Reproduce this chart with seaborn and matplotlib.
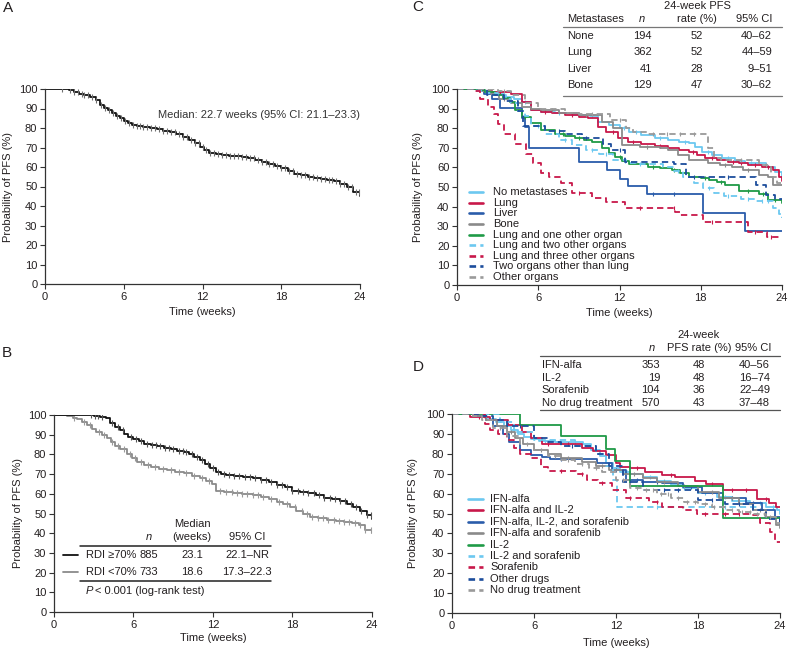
import numpy as np
import matplotlib
matplotlib.use("Agg")
import matplotlib.pyplot as plt
from matplotlib.lines import Line2D
import seaborn as sns

# ---- panel A: all patients ----
A_t = [0, 1.4, 1.8, 2.2, 2.6, 3.0, 3.4, 3.9, 4.2, 4.5, 4.8, 5.1, 5.4, 5.7, 6.0, 6.3, 6.6,
       7.0, 7.5, 8.0, 8.5, 9.0, 9.5, 10.0, 10.5, 11.0, 11.4, 11.8, 12.1, 12.5, 13.0, 13.5, 14.0,
       14.5, 15.0, 15.5, 16.0, 16.5, 17.0, 17.5, 18.0, 18.5, 19.0, 19.5, 20.0, 20.5, 21.0, 21.5,
       22.0, 22.5, 23.0, 23.5, 24.0]
A_v = [100, 99.8, 99.4, 98.6, 97.6, 96.8, 95.8, 94.4, 91.8, 90.5, 89.2, 87.6, 86.2, 85.0, 83.8,
       82.5, 81.6, 80.9, 80.4, 79.8, 79.3, 78.5, 77.8, 76.8, 75.5, 73.8, 72.3, 70.4, 68.5, 67.3,
       66.5, 66.1, 65.8, 65.5, 65.2, 64.5, 63.8, 62.8, 61.7, 60.4, 59.3, 57.8, 56.6, 55.7, 55.0,
       54.2, 53.6, 53.2, 52.8, 51.4, 49.9, 47.3, 45.0]
A_c = [1.3, 1.9, 2.2, 2.5, 2.8, 3.0, 3.3, 3.6, 3.9, 4.3, 4.6, 4.9, 5.2, 5.5, 5.8, 6.1, 6.4, 6.7,
       7.0, 7.2, 7.5, 7.8, 8.1, 8.4, 8.7, 9.0, 9.3, 9.6, 9.9, 10.2, 10.5, 10.8, 11.1, 11.4, 11.7,
       12.0, 12.3, 12.6, 12.9, 13.2, 13.5, 13.8, 14.1, 14.4, 14.7, 15.0, 15.3, 15.6, 15.9, 16.2,
       16.5, 16.8, 17.1, 17.4, 17.7, 18.0, 18.3, 18.6, 18.9, 19.2, 19.5, 19.8, 20.1, 20.4, 20.7,
       21.0, 21.3, 21.6, 21.9, 22.2, 22.5, 22.8, 23.1, 23.4, 23.7, 23.9]
A_note = "Median: 22.7 weeks (95% CI: 21.1\u201323.3)"

# ---- panel B: RDI groups ----
B1_t = [0, 3.0, 3.5, 3.9, 4.2, 4.6, 5.0, 5.3, 5.6, 6.0, 6.4, 6.8, 7.3, 7.8, 8.3, 8.8, 9.3, 9.8,
        10.2, 10.6, 11.0, 11.4, 11.8, 12.2, 12.6, 13.0, 13.6, 14.3, 15.0, 15.6, 16.2, 16.8, 17.4,
        18.0, 18.6, 19.2, 19.8, 20.4, 21.0, 21.6, 22.1, 22.6, 23.1, 23.6, 24.0]
B1_v = [100, 99.5, 99.0, 98.3, 95.8, 94.0, 92.4, 90.5, 89.0, 88.0, 87.0, 85.1, 84.6, 84.2, 83.4,
        82.6, 81.8, 81.2, 80.0, 78.5, 77.0, 75.0, 73.0, 71.2, 70.2, 69.5, 68.9, 68.5, 67.8, 67.0,
        66.0, 64.5, 63.2, 61.6, 60.8, 60.2, 59.2, 57.9, 57.2, 56.3, 55.0, 53.2, 51.5, 49.3, 47.0]
B1_c = [2.8, 3.1, 3.3, 3.6, 4.4, 4.8, 5.2, 5.8, 6.2, 6.6, 7.0, 7.4, 7.7, 8.0, 8.4, 8.7, 9.0, 9.4,
        9.7, 10.0, 10.4, 10.8, 11.2, 11.6, 12.0, 12.4, 12.8, 13.2, 13.6, 14.0, 14.4, 14.8, 15.2,
        15.6, 16.0, 16.4, 16.8, 17.2, 17.6, 18.0, 18.4, 18.8, 19.2, 19.6, 20.0, 20.4, 20.8, 21.2,
        21.6, 22.0, 22.4, 22.8, 23.2, 23.6, 23.9]
B2_t = [0, 1.0, 1.4, 1.7, 2.1, 2.5, 2.9, 3.2, 3.6, 4.0, 4.3, 4.6, 5.0, 5.5, 5.9, 6.3, 6.8, 7.3,
        7.9, 8.5, 9.1, 9.8, 10.4, 11.0, 11.5, 11.9, 12.2, 12.8, 13.5, 14.2, 15.0, 15.6, 16.2, 16.8,
        17.3, 17.8, 18.3, 18.8, 19.3, 19.9, 20.6, 21.3, 21.9, 22.5, 23.0, 23.5, 24.0]
B2_v = [100, 99.3, 98.6, 97.8, 96.5, 94.9, 92.8, 91.2, 90.0, 88.1, 86.5, 84.5, 82.8, 80.2, 78.3,
        76.3, 74.8, 73.6, 72.6, 72.0, 71.2, 70.4, 69.2, 67.9, 66.5, 65.0, 61.4, 60.8, 60.5, 60.0,
        59.4, 58.6, 57.2, 56.0, 54.6, 53.3, 51.3, 49.8, 48.4, 47.8, 46.8, 46.1, 45.7, 45.0, 44.0,
        41.6, 40.0]
B2_c = [1.5, 2.3, 2.7, 3.4, 3.8, 4.4, 4.8, 5.3, 5.7, 6.1, 6.6, 7.1, 7.6, 8.2, 8.8, 9.4, 10.0,
        10.6, 11.2, 11.7, 12.5, 13.0, 13.4, 13.8, 14.2, 14.6, 15.0, 15.4, 15.8, 16.4, 17.0, 17.6,
        18.2, 18.7, 19.1, 19.5, 19.9, 20.3, 20.7, 21.1, 21.5, 21.9, 22.3, 22.7, 23.1, 23.5, 23.9]
B_groups = ["RDI \u226570%", "RDI <70%"]
B_n = ["885", "733"]
B_median = ["23.1", "18.6"]
B_ci = ["22.1\u2013NR", "17.3\u201322.3"]

# ---- panel C: metastases ----
C_labels = ["No metastases", "Lung", "Liver", "Bone", "Lung and one other organ",
            "Lung and two other organs", "Lung and three other organs",
            "Two organs other than lung", "Other organs"]
C_none_t = [0, 1.8, 2.6, 3.5, 4.2, 4.8, 5.5, 6.2, 7.2, 8.5, 9.8, 10.4, 11.2, 12.0, 12.7, 13.6,
            14.6, 15.6, 16.4, 17.1, 17.6, 18.1, 18.8, 19.6, 20.5, 21.3, 22.0, 22.8, 23.5, 24.0]
C_none_v = [100, 99, 97.5, 96, 95, 93.5, 89.3, 88.5, 87.6, 86.8, 86, 83.3, 81.5, 80, 78.2, 76.5,
            74.8, 74, 73.2, 72.3, 70.5, 68, 66.5, 64.6, 63.5, 62.5, 62, 60, 57.8, 54]
C_none_c = [3.0, 5.0, 7.5, 9.0, 10.0, 12.3, 13.2, 15.0, 16.8, 18.5, 20.0, 21.7, 23.0]
C_lung_t = [0, 2.0, 2.6, 4.0, 4.8, 5.5, 6.2, 7.0, 8.0, 9.0, 9.7, 10.4, 11.0, 11.9, 12.6, 13.6,
            14.6, 15.6, 16.4, 17.1, 17.7, 18.3, 19.2, 20.0, 20.8, 21.5, 22.5, 23.3, 23.8, 24.0]
C_lung_v = [100, 99, 98.3, 97.5, 93.5, 89.3, 88.3, 87.8, 86.7, 85.8, 85, 80.8, 78, 74.8, 73,
            71.8, 70.8, 69.7, 69, 68, 66.5, 64.9, 64, 62.9, 62, 61.2, 60, 58.7, 55, 53]
C_lung_c = [2.3, 3.2, 6.5, 8.5, 11.5, 13.0, 15.0, 17.4, 18.8, 20.4, 21.0, 22.0, 23.0]
C_liver_t = [0, 2.0, 2.6, 3.2, 4.8, 5.0, 5.3, 9.0, 11.1, 12.0, 12.6, 14.0, 18.2, 21.3, 24.0]
C_liver_v = [100, 97.6, 95.1, 90.2, 85.4, 80.5, 70.0, 62.7, 58.5, 54.0, 50.3, 46.2, 36.9, 27.6, 27.6]
C_liver_c = [14.5, 16.0]
C_bone_t = [0, 1.5, 2.5, 3.1, 4.0, 4.8, 5.5, 6.2, 7.5, 9.0, 10.7, 11.5, 12.2, 13.5, 15.0, 15.6,
            16.3, 17.1, 18.5, 19.4, 20.3, 21.1, 22.3, 23.0, 23.3, 24.0]
C_bone_v = [100, 99, 97.5, 95, 93, 91, 90, 89.3, 88, 86.5, 83.3, 80, 71.4, 70.5, 69.8, 69, 66.5,
            63.8, 62.5, 61.2, 60, 58.7, 56.1, 55, 51, 51]
C_bone_c = [3.5, 7.0, 9.5, 14.0, 19.8, 21.5]
C_lung1_t = [0, 1.5, 2.1, 2.8, 3.4, 3.9, 4.3, 4.8, 5.5, 6.2, 7.2, 8.0, 8.7, 9.4, 10.0, 10.7, 11.2,
             11.7, 12.2, 12.7, 14.1, 15.0, 15.9, 16.5, 17.1, 18.0, 18.6, 19.2, 19.8, 20.8, 22.3,
             23.0, 24.0]
C_lung1_v = [100, 99.5, 98.6, 96.9, 95.5, 93.5, 89.3, 85.9, 82.5, 79.1, 76.9, 75.8, 74.8, 74,
             73.1, 69.7, 67.5, 65.5, 63.5, 61.6, 60.4, 59.5, 58.7, 57, 55.3, 54.5, 53.6, 52.5, 51,
             48, 46.6, 43.4, 42]
C_lung1_c = [5.0, 7.8, 9.0, 12.0, 14.5, 16.0, 18.3, 19.5, 21.5, 22.6, 23.5]
C_lung2_t = [0, 1.5, 2.2, 3.0, 3.6, 4.0, 4.5, 5.0, 5.5, 6.5, 7.5, 8.5, 9.5, 10.5, 11.5, 12.5,
             13.2, 15.2, 16.0, 16.7, 17.5, 18.2, 19.0, 19.7, 21.0, 22.1, 23.3, 23.8, 24.0]
C_lung2_v = [100, 99, 98, 97, 95, 93, 89, 86, 81, 77, 74, 71.4, 69, 67, 64, 62, 61.6, 60.4, 58,
             55.3, 52, 49.3, 47, 45.6, 44, 43, 39.1, 36, 34]
C_lung2_c = [6.0, 8.0, 10.0, 11.0, 13.5, 16.3, 18.6, 20.0, 21.5, 22.5, 23.0]
C_lung3_t = [0, 1.3, 1.7, 2.3, 2.7, 3.0, 3.5, 4.3, 5.1, 5.6, 6.2, 6.8, 7.7, 8.5, 10.0, 11.0, 12.4,
             16.1, 16.5, 18.2, 21.5, 22.9, 24.0]
C_lung3_v = [100, 99, 95, 91, 87, 82, 77, 72, 67, 62, 57, 55, 52, 47, 44.5, 42.5, 39.5, 37.5,
             35.5, 32.3, 27.2, 24.6, 24.6]
C_lung3_c = [9.0, 13.5, 16.0, 18.8, 22.0, 23.2]
C_two_t = [0, 2.2, 3.5, 4.5, 4.9, 6.5, 8.0, 9.2, 10.8, 11.4, 12.4, 16.0, 16.9, 22.1, 22.8, 23.5, 24.0]
C_two_v = [100, 97, 94, 89, 81, 78.5, 77, 75, 72, 69, 63, 61.5, 55, 51, 46, 44, 44]
C_two_c = [7.5, 9.5, 12.0, 17.5, 20.0]
C_other_t = [0, 2.0, 3.0, 4.0, 5.0, 6.0, 8.0, 9.0, 11.3, 12.5, 13.0, 14.0, 18.5, 19.0, 19.5, 22.3,
             23.2, 23.6, 24.0]
C_other_v = [100, 100, 99, 97, 93, 90, 88, 87, 84, 80, 78, 77, 70, 65, 64, 61, 55, 52, 51]
C_other_c = [3.5, 10.0, 12.0, 14.5, 15.5, 16.5, 17.5, 21.0, 22.8]
C_rows = ["None", "Lung", "Liver", "Bone"]
C_n = ["194", "362", "41", "129"]
C_rate = ["52", "52", "28", "47"]
C_ci = ["40\u201362", "44\u201359", "9\u201351", "30\u201362"]

# ---- panel D: prior treatment ----
D_labels = ["IFN-alfa", "IFN-alfa and IL-2", "IFN-alfa, IL-2, and sorafenib",
            "IFN-alfa and sorafenib", "IL-2", "IL-2 and sorafenib", "Sorafenib",
            "Other drugs", "No drug treatment"]
D_ifn_t = [0, 1.5, 2.5, 3.2, 3.8, 4.3, 4.8, 5.3, 5.8, 6.4, 7.5, 9.6, 10.2, 10.8, 11.3, 11.8,
           12.3, 13.0, 14.0, 15.0, 16.0, 16.9, 18.0, 19.4, 20.5, 21.8, 23.0, 23.8, 24.0]
D_ifn_v = [100, 99, 97.5, 96, 94, 92, 90, 88.5, 87.5, 86.4, 86, 84.8, 82, 79, 75.2, 73, 71.1,
           70, 68.5, 66.5, 64.5, 62.6, 60.5, 58.4, 56.5, 55.1, 53.5, 51.8, 49.5]
D_ifn_c = [2.0, 4.5, 6.8, 8.0, 9.0, 12.8, 14.5, 15.5, 17.0, 18.5, 20.0, 21.0, 22.5, 23.5]
D_ifn_il2_t = [0, 1.3, 2.8, 4.1, 5.1, 5.8, 6.6, 9.5, 10.3, 11.3, 12.0, 12.3, 13.0, 14.1, 15.4,
               16.3, 17.8, 18.6, 19.8, 22.3, 23.2, 23.7, 24.0]
D_ifn_il2_v = [100, 98.5, 96.9, 94.5, 91.1, 87.8, 84.9, 82.8, 81.2, 79.6, 75.2, 73.5, 72.7, 71,
               69.3, 68.2, 66.5, 64.8, 61.8, 57.5, 55.5, 53.3, 53.3]
D_ifn_il2_c = [2.0, 7.0, 8.5, 13.5, 16.0, 19.0, 20.5, 21.5, 23.0]
D_triple_t = [0, 1.5, 2.5, 3.0, 3.7, 4.2, 5.0, 5.8, 6.6, 7.2, 10.6, 11.7, 12.7, 14.0, 15.4, 16.9,
              18.3, 19.8, 21.5, 22.7, 23.6, 24.0]
D_triple_v = [100, 99, 97, 94, 90, 86, 81.9, 79.4, 78.2, 77.2, 75.2, 71.9, 66.8, 66, 65.3, 63.1,
              60.1, 57.6, 55.1, 51.8, 48.4, 45]
D_triple_c = [8.0, 12.0, 13.5, 15.0, 17.5, 20.5, 22.0]
D_ifn_sor_t = [0, 1.5, 2.5, 3.3, 4.0, 4.6, 5.2, 6.0, 7.0, 8.0, 9.5, 10.5, 11.5, 12.5, 14.0, 15.0,
               16.5, 18.0, 19.5, 21.0, 22.0, 23.0, 23.7, 24.0]
D_ifn_sor_v = [100, 99, 97, 94, 91, 88, 85, 82, 80, 78, 76, 74, 72, 70, 68, 66, 64, 61, 58, 55,
               52, 48, 44, 42.5]
D_ifn_sor_c = [4.3, 6.5, 8.5, 11.0, 13.3, 15.5, 17.0, 19.0, 20.5, 22.5]
D_il2_t = [0, 5.0, 7.95, 11.25, 11.95, 13.0, 19.85, 24.0]
D_il2_v = [100, 94.7, 88.9, 82.6, 76.3, 63.6, 47.7, 47.7]
D_il2_c = []
D_il2_sor_t = [0, 3.5, 4.5, 6.0, 9.0, 10.5, 11.3, 11.8, 12.05, 22.5]
D_il2_sor_v = [100, 96, 91, 87, 84, 80, 74, 67, 53.3, 53.3]
D_il2_sor_c = [15.0, 20.0]
D_sor_t = [0, 2.4, 2.8, 3.4, 4.0, 4.5, 5.0, 5.8, 6.5, 7.0, 9.1, 9.9, 10.7, 11.7, 12.7, 14.4, 15.4,
           16.9, 17.9, 22.0, 22.5, 23.3, 23.6, 24.0]
D_sor_v = [100, 95, 92, 90, 87, 83, 79.9, 77.7, 73.5, 71.5, 69.7, 66.8, 65.2, 61.8, 57.6, 56,
           53.4, 51.8, 49.6, 49, 45, 40.9, 35.8, 35.8]
D_sor_c = [8.0, 9.5, 11.0, 13.0, 15.0, 18.5, 20.0, 21.0]
D_other_t = [0, 2.0, 3.0, 4.0, 5.7, 6.0, 7.0, 8.0, 9.5, 10.5, 11.5, 12.5, 14.0, 17.0, 18.0, 20.0,
             22.0, 23.0, 24.0]
D_other_v = [100, 99, 97, 94, 94, 88, 86, 84, 84, 80, 74, 66, 62, 62, 57, 55, 52, 47, 43]
D_other_c = [5.0, 8.8, 13.0, 15.5, 16.5, 19.0, 21.0]
D_nodrug_t = [0, 1.5, 2.2, 3.0, 4.0, 5.0, 6.0, 7.0, 8.0, 9.0, 10.0, 11.0, 12.0, 13.0, 14.0, 15.0,
              16.0, 17.0, 18.0, 19.0, 20.0, 21.0, 22.0, 23.0, 23.7, 24.0]
D_nodrug_v = [100, 99, 97, 93, 89, 85, 82, 79, 77, 75, 73, 71, 67, 63, 62, 60, 58, 56, 55, 53.5,
              52, 51, 50, 48, 45, 43]
D_nodrug_c = [3.5, 5.5, 7.5, 8.5, 9.5, 10.5, 12.5, 13.5, 14.2, 14.7, 15.3, 15.8, 16.5, 17.2,
              17.8, 18.5, 19.2, 19.8, 20.5, 21.2, 21.8, 22.3, 22.8, 23.3]
D_rows = ["IFN-alfa", "IL-2", "Sorafenib", "No drug treatment"]
D_n = ["353", "19", "104", "570"]
D_rate = ["48", "48", "36", "43"]
D_ci = ["40\u201356", "16\u201374", "22\u201349", "37\u201348"]

LBLUE = "#6cc8f0"
CRIMSON = "#c8184a"
BLUE = "#2a5caa"
GRAY = "#8a8a8a"
GREEN = "#1f9a47"
DBLUE = "#1c4d9c"
DGRAY = "#9a9a9a"
TXT = "#231f20"
DASH = (0, (3.5, 2.2))
FS = 8

sns.set_theme(style="ticks")
plt.rcParams['font.family'] = ['Liberation Sans', 'DejaVu Sans']

W, H = 790, 650
fig = plt.figure(figsize=(W / 100, H / 100), dpi=100)


def box(x0, y0, x1, y1):
    return [x0 / W, 1 - y1 / H, (x1 - x0) / W, (y1 - y0) / H]


def ftext(x, y, s, **kw):
    kw.setdefault("fontsize", FS)
    kw.setdefault("color", TXT)
    kw.setdefault("va", "center")
    fig.text(x / W, 1 - y / H, s, **kw)


def fline(x0, x1, y, **kw):
    fig.add_artist(Line2D([x0 / W, x1 / W], [1 - y / H, 1 - y / H], **kw))


def km(ax, t, v, color, ls="-", lw=1.1, cens=None, ccol=None, ms=3.5):
    sns.lineplot(x=t, y=v, ax=ax, color=color, linestyle=ls, linewidth=lw,
                 drawstyle="steps-post", estimator=None, sort=False)
    if cens:
        idx = np.searchsorted(t, cens, side="right") - 1
        cv = np.asarray(v)[idx]
        ax.plot(cens, cv, ls="none", marker="|", ms=ms, mew=0.8,
                color=ccol if ccol else color)


axA = fig.add_axes(box(45, 89, 360, 284))
axB = fig.add_axes(box(54, 415, 372, 612))
axC = fig.add_axes(box(457, 89, 782, 285))
axD = fig.add_axes(box(452, 414, 780, 613))

# A
km(axA, A_t, A_v, "#111111", lw=1.3, cens=A_c, ccol="#6f6f6f", ms=4.5)

# B
km(axB, B2_t, B2_v, "#8a8a8a", lw=1.3, cens=B2_c, ccol="#9a9a9a", ms=4.5)
km(axB, B1_t, B1_v, "#111111", lw=1.3, cens=B1_c, ccol="#555555", ms=4.5)

# C
C_curves = [
    (C_none_t, C_none_v, C_none_c, LBLUE, "-"),
    (C_lung_t, C_lung_v, C_lung_c, CRIMSON, "-"),
    (C_liver_t, C_liver_v, C_liver_c, BLUE, "-"),
    (C_bone_t, C_bone_v, C_bone_c, GRAY, "-"),
    (C_lung1_t, C_lung1_v, C_lung1_c, GREEN, "-"),
    (C_lung2_t, C_lung2_v, C_lung2_c, LBLUE, DASH),
    (C_lung3_t, C_lung3_v, C_lung3_c, CRIMSON, DASH),
    (C_two_t, C_two_v, C_two_c, DBLUE, DASH),
    (C_other_t, C_other_v, C_other_c, DGRAY, DASH),
]
for t, v, c, col, ls in C_curves:
    km(axC, t, v, col, ls=ls, lw=1.3, cens=c)

# D
D_curves = [
    (D_ifn_t, D_ifn_v, D_ifn_c, LBLUE, "-"),
    (D_ifn_il2_t, D_ifn_il2_v, D_ifn_il2_c, CRIMSON, "-"),
    (D_triple_t, D_triple_v, D_triple_c, BLUE, "-"),
    (D_ifn_sor_t, D_ifn_sor_v, D_ifn_sor_c, GRAY, "-"),
    (D_il2_t, D_il2_v, D_il2_c, GREEN, "-"),
    (D_il2_sor_t, D_il2_sor_v, D_il2_sor_c, LBLUE, DASH),
    (D_sor_t, D_sor_v, D_sor_c, CRIMSON, DASH),
    (D_other_t, D_other_v, D_other_c, DBLUE, DASH),
    (D_nodrug_t, D_nodrug_v, D_nodrug_c, DGRAY, DASH),
]
for t, v, c, col, ls in D_curves:
    km(axD, t, v, col, ls=ls, lw=1.3, cens=c)

for ax in (axA, axB, axC, axD):
    ax.set_xlim(0, 24)
    ax.set_ylim(0, 100)
    ax.set_xticks([0, 6, 12, 18, 24])
    ax.set_yticks(range(0, 101, 10))
    ax.set_xlabel("")
    ax.set_ylabel("")
    sns.despine(ax=ax)
    for sp in ("left", "bottom"):
        ax.spines[sp].set_color("#333333")
        ax.spines[sp].set_linewidth(0.9)
    ax.tick_params(direction="out", length=3.5, width=0.8, labelsize=FS,
                   colors="#333333", labelcolor=TXT, pad=2)
    ax.grid(False)

# axis labels and panel letters
for (lx, ly, xx, xy, letter, px, py) in [
        (8, 186.5, 202.5, 312, "A", 3, 8),
        (18.5, 513.5, 213, 638.3, "B", 2, 353),
        (418, 187, 619.5, 313.3, "C", 412, 7),
        (413.5, 513.5, 616, 642.7, "D", 413, 367)]:
    ftext(lx, ly, "Probability of PFS (%)", rotation=90, ha="center")
    ftext(xx, xy, "Time (weeks)", ha="center")
    ftext(px, py, letter, fontsize=11, ha="left")

# A annotation
ftext(360, 115, A_note, ha="right", color="#333333")

# B table
ftext(149, 537, "n", ha="center", style="italic")
ftext(192, 524, "Median", ha="center")
ftext(192, 537, "(weeks)", ha="center")
ftext(247, 537, "95% CI", ha="center")
fline(80, 271, 545.7, color="#222222", lw=1.1)
for i, (col, y) in enumerate([("#111111", 555), ("#8a8a8a", 571.7)]):
    fline(63, 78, y, color=col, lw=1.3)
    ftext(86, y, B_groups[i], ha="left")
    ftext(149, y, B_n[i], ha="center")
    ftext(192, y, B_median[i], ha="center")
    ftext(247, y, B_ci[i], ha="center")
fline(80, 271, 581, color="#222222", lw=1.1)
ftext(86, 590.7, "P", ha="left", style="italic")
ftext(95, 590.7, "< 0.001 (log-rank test)", ha="left")

# C table
ftext(697, 6, "24-week PFS", ha="center")
ftext(566.7, 18.7, "Metastases", ha="left")
ftext(642, 18.7, "n", ha="center", style="italic")
ftext(697, 18.7, "rate (%)", ha="center")
ftext(772, 18.7, "95% CI", ha="right")
fline(563, 782, 26.7, color="#777777", lw=0.9)
for i, y in enumerate([35.7, 52.3, 69.0, 85.3]):
    ftext(566.7, y, C_rows[i], ha="left")
    ftext(652, y, C_n[i], ha="right")
    ftext(697, y, C_rate[i], ha="center")
    ftext(772, y, C_ci[i], ha="right")
fline(563, 782, 95.7, color="#777777", lw=0.9)

# C legend
for i, (t, v, c, col, ls) in enumerate(C_curves):
    y = 192.3 + i * 10.55
    fline(469, 483, y, color=col, lw=1.9, ls=ls if ls == "-" else (0, (2.5, 1.6)))
    ftext(492.7, y, C_labels[i], ha="left")

# D table
ftext(699, 335, "24-week", ha="center")
ftext(651.7, 348.3, "n", ha="center", style="italic")
ftext(699, 348.3, "PFS rate (%)", ha="center")
ftext(771, 348.3, "95% CI", ha="right")
fline(540, 780, 356, color="#555555", lw=0.9)
for i, y in enumerate([365, 377.5, 390, 403.3]):
    ftext(541.7, y, D_rows[i], ha="left")
    ftext(660, y, D_n[i], ha="right")
    ftext(698.5, y, D_rate[i], ha="center")
    ftext(770, y, D_ci[i], ha="right")
fline(540, 780, 410, color="#555555", lw=0.9)

# D legend
for i, (t, v, c, col, ls) in enumerate(D_curves):
    y = 499 + i * 11.4
    fline(467.7, 483.3, y, color=col, lw=1.9, ls=ls if ls == "-" else (0, (2.5, 1.6)))
    ftext(490, y, D_labels[i], ha="left")

fig.savefig("out.png", dpi=100)
